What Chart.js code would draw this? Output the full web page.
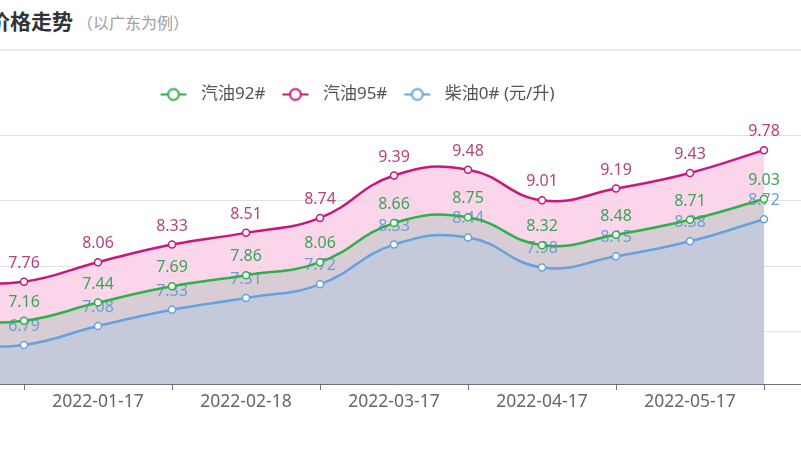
<!DOCTYPE html>
<html><head><meta charset="utf-8">
<script src="https://cdn.jsdelivr.net/npm/chart.js@4.4.1/dist/chart.umd.min.js"></script>
<style>
html,body{margin:0;padding:0;width:801px;height:451px;overflow:hidden;background:#fff;}
#hdr{position:absolute;left:-11px;top:5px;white-space:nowrap;font-family:'Noto Sans CJK SC',sans-serif;line-height:30px;}
#hdr .t{font-size:21px;font-weight:bold;color:#333;}
#hdr .s{font-size:16px;color:#a0a0a0;margin-left:4px;}
#rule{position:absolute;left:0;top:49px;width:801px;height:2px;background:#e8e8e8;}
#wrap{position:absolute;left:-52px;top:0;width:892px;height:451px;}
</style></head><body>
<div id="hdr"><span class="t">价格走势</span><span class="s">（以广东为例）</span></div>
<div id="rule"></div>
<div id="wrap"><canvas id="c"></canvas></div>
<script>
// categories (first one and the trailing blank lie outside the visible crop)
const categories = ['2021-12-17','2022-01-01','2022-01-17','2022-02-01','2022-02-18','2022-03-01','2022-03-17','2022-04-01','2022-04-17','2022-05-01','2022-05-17','2022-06-01',''];
const shownLabels = ['2022-01-17','2022-02-18','2022-03-17','2022-04-17','2022-05-17'];
const seriesNames = ['汽油92#','汽油95#','柴油0# (元/升)'];
const gas92   = [7.14, 7.16, 7.44, 7.69, 7.86, 8.06, 8.66, 8.75, 8.32, 8.48, 8.71, 9.03, null];
const gas95   = [7.74, 7.76, 8.06, 8.33, 8.51, 8.74, 9.39, 9.48, 9.01, 9.19, 9.43, 9.78, null];
const diesel0 = [6.78, 6.79, 7.08, 7.33, 7.51, 7.72, 8.33, 8.44, 7.98, 8.15, 8.38, 8.72, null];
const yMin = 6.19, yMax = 10.35;

const FONT = "'Noto Sans', 'Noto Sans CJK SC', sans-serif";
Chart.defaults.font.family = FONT;
const LEGEND_DX = -37;

function makeIcon(color){
  const c = document.createElement('canvas'); c.width = 33; c.height = 16;
  const g = c.getContext('2d');
  g.strokeStyle = color; g.lineWidth = 2;
  g.beginPath(); g.moveTo(1,8); g.lineTo(27,8); g.stroke();
  g.beginPath(); g.arc(14,8,5.5,0,Math.PI*2); g.fillStyle='#fff'; g.fill(); g.stroke();
  return c;
}

const valueLabels = {
  id: 'valueLabels',
  afterDatasetDraw(chart, args) {
    const ds = chart.data.datasets[args.index];
    const ctx = chart.ctx;
    ctx.save();
    ctx.font = "16px " + FONT;
    ctx.fillStyle = ds.labelColor;
    ctx.textAlign = 'center';
    ctx.textBaseline = 'alphabetic';
    args.meta.data.forEach((pt, j) => {
      const v = ds.data[j];
      if (v == null) return;
      ctx.fillText(v.toFixed(2), pt.x, pt.y - 14);
    });
    ctx.restore();
  }
};
const legendShift = {
  id: 'legendShift',
  afterLayout(chart){ const l = chart.legend; if (l){ l.left += LEGEND_DX; l.right += LEGEND_DX; } }
};

const colors = {
  g: {line:'#2eb04a', label:'#3aa557', fill:'rgba(209,196,206,0.85)'},
  p: {line:'#c8187f', label:'#b0457f', fill:'rgba(250,207,230,0.85)'},
  b: {line:'#65a2e0', label:'#6d9dd6', fill:'rgba(187,193,213,0.85)'}
};
function mk(label, data, c, fill){
  return {label, data, borderColor:c.line, backgroundColor:c.fill, fill, labelColor:c.label,
    tension:0.45, borderWidth:2.5, pointRadius:3.5, pointBorderWidth:1.5,
    pointBackgroundColor:'#fff', pointBorderColor:c.line, pointHoverRadius:3.5};
}
const icons = [makeIcon(colors.g.line), makeIcon(colors.p.line), makeIcon(colors.b.line)];

new Chart(document.getElementById('c'), {
  type: 'line',
  data: {
    labels: categories,
    datasets: [
      mk(seriesNames[0], gas92, colors.g, 2),
      mk(seriesNames[1], gas95, colors.p, 0),
      mk(seriesNames[2], diesel0, colors.b, 'start')
    ]
  },
  options: {
    responsive: true, maintainAspectRatio: false, animation: false,
    layout: {autoPadding: false, padding: {top: 70, left: 0, right: 0, bottom: 0}},
    plugins: {
      legend: {
        display: true, position: 'top', align: 'center',
        labels: {
          usePointStyle: true, pointStyleWidth: 33, padding: 16, color: '#555',
          font: {size: 17},
          generateLabels(chart){
            return chart.data.datasets.map((ds, i) => ({
              text: ds.label, fillStyle: ds.borderColor, strokeStyle: ds.borderColor,
              lineWidth: 0, pointStyle: icons[i], hidden: !chart.isDatasetVisible(i),
              datasetIndex: i, fontColor: '#555'
            }));
          }
        }
      },
      tooltip: {enabled: false},
      filler: {drawTime: 'beforeDatasetsDraw'}
    },
    scales: {
      x: {
        offset: false,
        grid: {display: true, drawOnChartArea: false, drawTicks: true, tickLength: 6, tickWidth: 1,
          tickColor: (ctx) => {
            const lab = categories[ctx.index];
            return (lab === '' || shownLabels.includes(lab)) ? 'rgba(0,0,0,0)' : '#6e7079';
          }},
        border: {display: true, color: '#6e7079', width: 1},
        ticks: {autoSkip: false, maxRotation: 0, minRotation: 0, padding: 2, color: '#666', font: {size: 17.5},
          callback: function(val){ const l = this.getLabelForValue(val); return shownLabels.includes(l) ? l : ''; }},
        afterFit(s){ s.height = 67; }
      },
      y: {
        min: yMin, max: yMax,
        grid: {color: '#e0e0e0', drawTicks: false},
        border: {display: false},
        ticks: {display: false, stepSize: 1},
        afterBuildTicks(s){ s.ticks = s.ticks.filter(t => Math.abs(t.value - Math.round(t.value)) < 1e-9); },
        afterFit(s){ s.width = 0; }
      }
    }
  },
  plugins: [valueLabels, legendShift]
});
</script>
</body></html>
